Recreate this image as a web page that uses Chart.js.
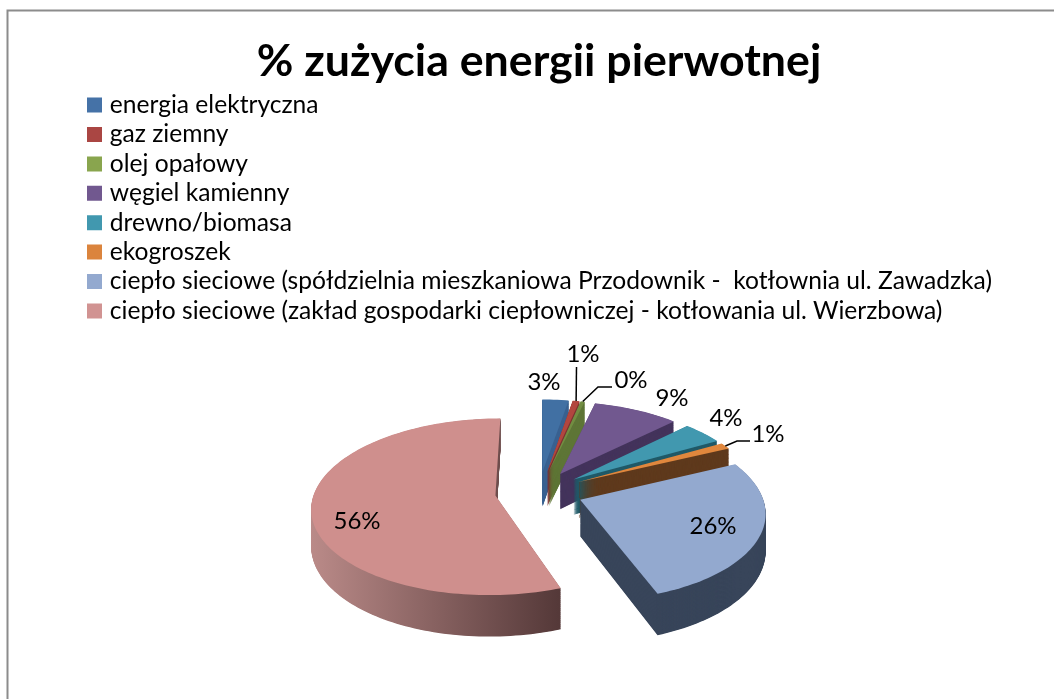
<!DOCTYPE html>
<html>
<head>
<meta charset="utf-8">
<script src="https://cdn.jsdelivr.net/npm/chart.js@4/dist/chart.umd.min.js"></script>
<style>
  html, body { margin: 0; background: #fff; overflow: hidden; }
  canvas { display: block; }
</style>
</head>
<body>
<canvas id="diagram" width="1054" height="699"></canvas>
<script>
const categories = [
  "energia elektryczna",
  "gaz ziemny",
  "olej opałowy",
  "węgiel kamienny",
  "drewno/biomasa",
  "ekogroszek",
  "ciepło sieciowe (spółdzielnia mieszkaniowa Przodownik -  kotłownia ul. Zawadzka)",
  "ciepło sieciowe (zakład gospodarki ciepłowniczej - kotłowania ul. Wierzbowa)",
];
const shares = [2.7, 0.7, 0.4, 8.8, 4.2, 1.2, 26.4, 55.6];

const legendColors = ["#4572a7", "#aa4643", "#89a54e", "#71588f", "#4198af", "#db843d", "#93a9cf", "#d19392"];
const faceColors = ["#4170a3", "#b2463f", "#728d42", "#71588f", "#4198af", "#e0873d", "#93a9cf", "#cf8f8d"];
const sideColors = ["#3a6291", "#7d3432", "#5f7637", "#44345c", "#215a68", "#5f3a1d", "#38455a", ["#bb8b89", "#553939"]];

// where the percent labels sit, with an optional elbow for the leader line
const labelSpots = [
  { x: 544, y: 382 },
  { x: 583, y: 354, leader: [[576.5, 367]] },
  { x: 631, y: 380, leader: [[598, 387], [612, 387]] },
  { x: 672, y: 398 },
  { x: 726, y: 418 },
  { x: 768, y: 434, leader: [[737, 441], [750, 441]] },
  { x: 713, y: 526 },
  { x: 357, y: 521 },
];

const FONT = "Lato";
const TILT = 0.475;
const PERSPECTIVE = 0.0007;
const DEPTH = 36;
const DROP = 98;

// the pie lies on a tilted plane: far side shrinks, near side grows
function project(el, u, v, lift) {
  const w = 1 - PERSPECTIVE * v;
  return [el.x + u / w, el.y + DROP + (TILT * v + lift) / w];
}

function slicePath(ctx, el, lift) {
  const mid = (el.startAngle + el.endAngle) / 2;
  const off = el.options.offset / 4;
  const u0 = Math.cos(mid) * off;
  const v0 = Math.sin(mid) * off;
  const r = el.outerRadius;
  const steps = Math.max(4, Math.ceil((el.endAngle - el.startAngle) * 40));
  ctx.beginPath();
  ctx.moveTo(...project(el, u0, v0, lift));
  for (let i = 0; i <= steps; i++) {
    const a = el.startAngle + (el.endAngle - el.startAngle) * i / steps;
    ctx.lineTo(...project(el, u0 + Math.cos(a) * r, v0 + Math.sin(a) * r, lift));
  }
  ctx.closePath();
}

const pie3d = {
  id: "pie3d",
  afterLayout(chart) {
    // a chartArea legend always starts at the canvas top, so push it under the title
    chart.legend.top = 88;
  },
  beforeDraw(chart) {
    const ctx = chart.ctx;
    ctx.save();
    ctx.fillStyle = "#fff";
    ctx.fillRect(0, 0, chart.width, chart.height);
    ctx.strokeStyle = "#8c8c8c";
    ctx.lineWidth = 2;
    ctx.beginPath();
    ctx.moveTo(7.5, chart.height);
    ctx.lineTo(7.5, 10.5);
    ctx.lineTo(chart.width, 10.5);
    ctx.stroke();
    ctx.restore();
  },
  beforeDatasetDraw(chart) {
    const ctx = chart.ctx;
    const arcs = chart.getDatasetMeta(0).data;
    ctx.save();
    arcs.forEach((el, i) => {
      let side = sideColors[i];
      if (Array.isArray(side)) {
        const g = ctx.createLinearGradient(309, 0, 558, 0);
        g.addColorStop(0, side[0]);
        g.addColorStop(1, side[1]);
        side = g;
      }
      ctx.fillStyle = side;
      for (let d = DEPTH; d > 0; d -= 0.5) {
        slicePath(ctx, el, d);
        ctx.fill();
      }
      ctx.fillStyle = faceColors[i];
      slicePath(ctx, el, 0);
      ctx.fill();
    });
    ctx.restore();
    return false;
  },
  afterDraw(chart) {
    const ctx = chart.ctx;
    const arcs = chart.getDatasetMeta(0).data;
    ctx.save();
    ctx.font = "24px " + FONT;
    ctx.fillStyle = "#000";
    ctx.textAlign = "center";
    ctx.textBaseline = "middle";
    ctx.strokeStyle = "#000";
    ctx.lineWidth = 1.5;
    arcs.forEach((el, i) => {
      const spot = labelSpots[i];
      ctx.fillText(Math.round(shares[i]) + "%", spot.x, spot.y);
      if (spot.leader) {
        const mid = (el.startAngle + el.endAngle) / 2;
        const reach = el.options.offset / 4 + el.outerRadius;
        ctx.beginPath();
        ctx.moveTo(...project(el, Math.cos(mid) * reach, Math.sin(mid) * reach, 0));
        spot.leader.forEach((p) => ctx.lineTo(p[0], p[1]));
        ctx.stroke();
      }
    });
    ctx.restore();
  },
};

new Chart(document.getElementById("diagram").getContext("2d"), {
  type: "pie",
  data: {
    labels: categories,
    datasets: [
      {
        data: shares,
        backgroundColor: legendColors,
        borderWidth: 0,
        offset: 176,
        radius: 181,
      },
    ],
  },
  options: {
    responsive: false,
    animation: false,
    layout: { padding: { top: 10, left: 86.7, right: 62.7 } },
    plugins: {
      tooltip: { enabled: false },
      title: {
        display: true,
        text: "% zużycia energii pierwotnej",
        color: "#000",
        font: { family: FONT, size: 44.7, weight: "bold" },
        padding: { top: 25, bottom: 0 },
      },
      legend: {
        position: "chartArea",
        align: "start",
        labels: {
          color: "#000",
          font: { family: FONT, size: 24.6 },
          boxWidth: 6,
          boxHeight: 6,
          padding: 4.8,
          // box stroke widens the swatch so the gap to the text stays tight
          generateLabels(chart) {
            return Chart.overrides.pie.plugins.legend.labels.generateLabels(chart).map((item) => ({
              ...item,
              lineWidth: 9,
              strokeStyle: item.fillStyle,
            }));
          },
        },
      },
    },
  },
  plugins: [pie3d],
});
</script>
</body>
</html>
